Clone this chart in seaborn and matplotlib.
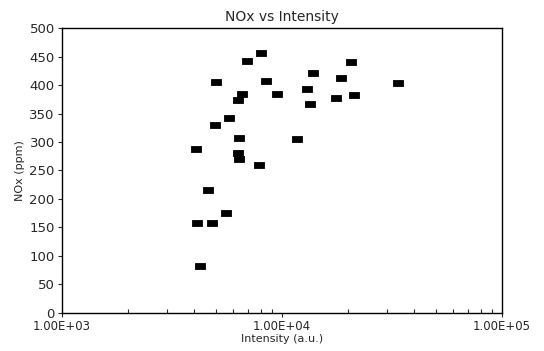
import matplotlib
matplotlib.use("Agg")
import matplotlib.pyplot as plt
import seaborn as sns
import pandas as pd
from matplotlib.ticker import LogLocator, NullFormatter

intensity = [4070, 5020, 4970, 5750, 6940, 8040, 8470, 6590, 6320, 6380,
             6320, 6380, 7870, 9500, 20600, 13800, 18500, 13000, 33600, 17600,
             21200, 13400, 11700, 4610, 4110, 4810, 5570, 4250]
nox = [288, 405, 330, 342, 442, 456, 407, 384, 374, 308,
       281, 270, 259, 384, 441, 421, 412, 393, 403, 377,
       382, 367, 305, 215, 157, 157, 175, 82]

title = "NOx vs Intensity"
xlabel = "Intensity (a.u.)"
ylabel = "NOx (ppm)"
yticks = [0, 50, 100, 150, 200, 250, 300, 350, 400, 450, 500]
xticks = [1e3, 1e4, 1e5]
xticklabels = ["1.00E+03", "1.00E+04", "1.00E+05"]

df = pd.DataFrame({"Intensity": intensity, "NOx": nox})

sns.set_style("ticks")
plt.rcParams['font.family'] = ['DejaVu Sans']

fig = plt.figure(figsize=(5.44, 3.51), dpi=100)
ax = fig.add_axes([0.1134, 0.1091, 0.8094, 0.8103])

rect = [(-1, -0.6), (1, -0.6), (1, 0.6), (-1, 0.6), (-1, -0.6)]
sns.scatterplot(data=df, x="Intensity", y="NOx", ax=ax, marker=rect,
                s=46, color="black", edgecolor="black", linewidth=0.6)

ax.set_xscale("log")
ax.set_xlim(1e3, 1e5)
ax.set_ylim(0, 500)
ax.set_yticks(yticks)
ax.set_xticks(xticks)
ax.set_xticklabels(xticklabels)
ax.xaxis.set_minor_locator(LogLocator(base=10, subs=range(2, 10)))
ax.xaxis.set_minor_formatter(NullFormatter())

for s in ax.spines.values():
    s.set_color("black")
    s.set_linewidth(1.0)

ax.tick_params(axis="y", direction="out", length=3, width=0.8, labelsize=9.5, pad=2)
ax.tick_params(axis="x", which="major", direction="out", length=3, width=0.8, labelsize=8.5, pad=2)
ax.tick_params(axis="x", which="minor", direction="in", length=3, width=0.8)

ax.set_title(title, fontsize=10, pad=5)
ax.set_xlabel(xlabel, fontsize=8, labelpad=1)
ax.set_ylabel(ylabel, fontsize=8, labelpad=3)

fig.savefig("out.png", dpi=100)
